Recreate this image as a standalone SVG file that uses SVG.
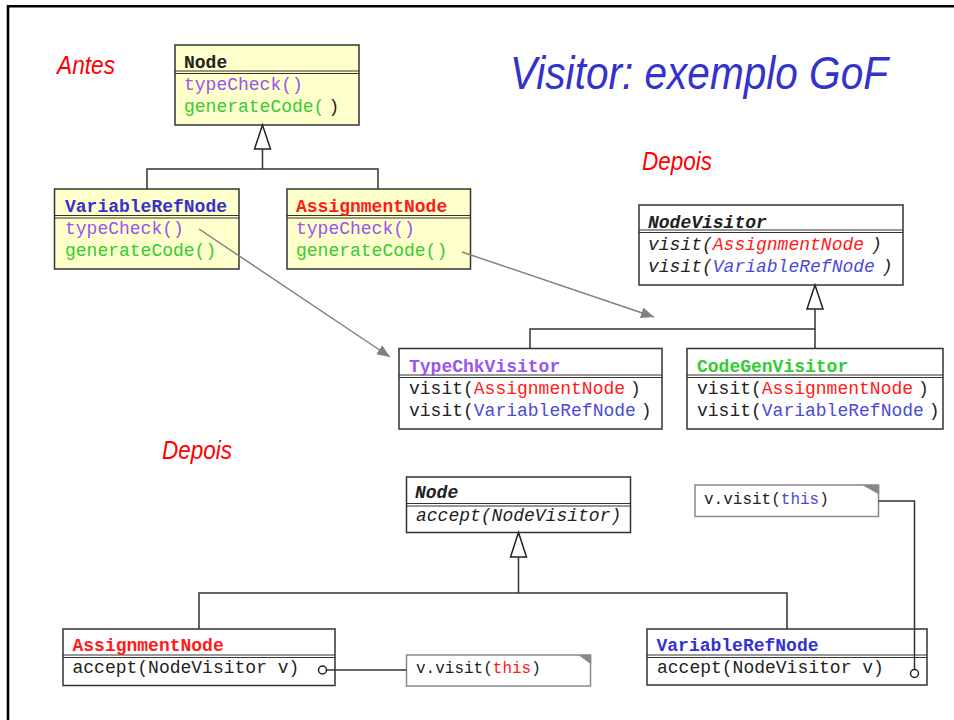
<svg xmlns="http://www.w3.org/2000/svg" width="954" height="720" viewBox="0 0 954 720">
  <style>
    .mono { font-family: "Liberation Mono", "Courier New", monospace; font-size: 18px; fill: #222; }
    .small { font-size: 16px; }
    .b { font-weight: bold; }
    .i { font-style: italic; }
    .head { font-family: "Liberation Sans", Arial, sans-serif; font-style: italic; fill: #ff0000; font-size: 25px; }
    .title { font-family: "Liberation Sans", Arial, sans-serif; font-style: italic; fill: #3333cc; font-size: 46px; }
    .ybox { fill: #ffffcc; stroke: #333; stroke-width: 1.5; }
    .wbox { fill: #ffffff; stroke: #333; stroke-width: 1.5; }
    .sep { stroke: #333; stroke-width: 1; }
    .note { fill: #ffffff; stroke: #888; stroke-width: 1.5; }
    .fold { fill: #888; }
    .red { fill: #ff1a1a; }
    .blue { fill: #3333cc; }
    .lblue { fill: #4a4ad9; }
    .purple { fill: #9955ee; }
    .green { fill: #33cc33; }
    .wire { fill: none; stroke: #333; stroke-width: 1.5; }
    .gen { fill: #ffffff; stroke: #222; stroke-width: 1.5; }
    .dep { fill: none; stroke: #808080; stroke-width: 1.5; marker-end: url(#arrow); }
    .port { fill: #ffffff; stroke: #222; stroke-width: 1.5; }
    .frame { fill: none; stroke: #000; stroke-width: 2.6; }
  </style>
  <defs>
    <marker id="arrow" markerUnits="userSpaceOnUse" markerWidth="14" markerHeight="12" refX="13" refY="5.5" orient="auto">
      <path d="M0,0 L13,5.5 L0,11 z" fill="#808080"/>
    </marker>
  </defs>

  <!-- page frame -->
  <path class="frame" d="M8,720 V6.2 H954"/>

  <!-- headings -->
  <text class="head" x="57" y="74" textLength="58" lengthAdjust="spacingAndGlyphs">Antes</text>
  <text class="title" x="510" y="89" textLength="378" lengthAdjust="spacingAndGlyphs">Visitor: exemplo GoF</text>
  <text class="head" x="642" y="170" textLength="70" lengthAdjust="spacingAndGlyphs">Depois</text>
  <text class="head" x="162" y="459" textLength="70" lengthAdjust="spacingAndGlyphs">Depois</text>

  <!-- before -->
  <g id="node-before">
    <rect class="ybox" x="175" y="45" width="184" height="80"/>
    <line class="sep" x1="175" y1="71" x2="359" y2="71"/>
    <line class="sep" x1="175" y1="73.5" x2="359" y2="73.5"/>
    <text class="mono b" x="184" y="68">Node</text>
    <text class="mono purple" x="184" y="90">typeCheck()</text>
    <text class="mono" x="184" y="112"><tspan class="green">generateCode(</tspan><tspan dx="4">)</tspan></text>
  </g>

  <g id="varref-before">
    <rect class="ybox" x="54.5" y="189" width="184.5" height="80"/>
    <line class="sep" x1="54.5" y1="215.5" x2="239" y2="215.5"/>
    <line class="sep" x1="54.5" y1="218" x2="239" y2="218"/>
    <text class="mono b blue" x="65" y="212">VariableRefNode</text>
    <text class="mono purple" x="65" y="234">typeCheck()</text>
    <text class="mono green" x="65" y="256">generateCode()</text>
  </g>

  <g id="assign-before">
    <rect class="ybox" x="287" y="189" width="183.5" height="80"/>
    <line class="sep" x1="287" y1="215.5" x2="470.5" y2="215.5"/>
    <line class="sep" x1="287" y1="218" x2="470.5" y2="218"/>
    <text class="mono b red" x="296" y="212">AssignmentNode</text>
    <text class="mono purple" x="296" y="234">typeCheck()</text>
    <text class="mono green" x="296" y="256">generateCode()</text>
  </g>

  <!-- visitors -->
  <g id="node-visitor">
    <rect class="wbox" x="639" y="205" width="264" height="80"/>
    <line class="sep" x1="639" y1="230" x2="903" y2="230"/>
    <line class="sep" x1="639" y1="232.5" x2="903" y2="232.5"/>
    <text class="mono b i" x="648" y="227.5">NodeVisitor</text>
    <text class="mono i" x="648" y="250">visit(<tspan class="red">AssignmentNode</tspan><tspan dx="7">)</tspan></text>
    <text class="mono i" x="648" y="272">visit(<tspan class="lblue">VariableRefNode</tspan><tspan dx="7">)</tspan></text>
  </g>

  <g id="typechk-visitor">
    <rect class="wbox" x="399" y="348.5" width="263" height="80.5"/>
    <line class="sep" x1="399" y1="375" x2="662" y2="375"/>
    <line class="sep" x1="399" y1="377.5" x2="662" y2="377.5"/>
    <text class="mono b purple" x="409" y="372">TypeChkVisitor</text>
    <text class="mono" x="409" y="394">visit(<tspan class="red">AssignmentNode</tspan><tspan dx="5">)</tspan></text>
    <text class="mono" x="409" y="416">visit(<tspan class="lblue">VariableRefNode</tspan><tspan dx="5">)</tspan></text>
  </g>

  <g id="codegen-visitor">
    <rect class="wbox" x="687" y="348.5" width="256" height="80.5"/>
    <line class="sep" x1="687" y1="375" x2="943" y2="375"/>
    <line class="sep" x1="687" y1="377.5" x2="943" y2="377.5"/>
    <text class="mono b green" x="697" y="372">CodeGenVisitor</text>
    <text class="mono" x="697" y="394">visit(<tspan class="red">AssignmentNode</tspan><tspan dx="5">)</tspan></text>
    <text class="mono" x="697" y="416">visit(<tspan class="lblue">VariableRefNode</tspan><tspan dx="5">)</tspan></text>
  </g>

  <!-- after -->
  <g id="node-after">
    <rect class="wbox" x="406.5" y="477" width="224" height="55.5"/>
    <line class="sep" x1="406.5" y1="503.5" x2="630.5" y2="503.5"/>
    <line class="sep" x1="406.5" y1="506" x2="630.5" y2="506"/>
    <text class="mono b i" x="415" y="498">Node</text>
    <text class="mono i" x="416" y="521">accept(NodeVisitor)</text>
  </g>

  <g id="assign-after">
    <rect class="wbox" x="63" y="629" width="272" height="56.5"/>
    <line class="sep" x1="63" y1="655" x2="335" y2="655"/>
    <line class="sep" x1="63" y1="657.5" x2="335" y2="657.5"/>
    <text class="mono b red" x="72.5" y="651">AssignmentNode</text>
    <text class="mono" x="72.5" y="673">accept(NodeVisitor v)</text>
  </g>

  <g id="varref-after">
    <rect class="wbox" x="647" y="629" width="280" height="56"/>
    <line class="sep" x1="647" y1="655" x2="927" y2="655"/>
    <line class="sep" x1="647" y1="657.5" x2="927" y2="657.5"/>
    <text class="mono b blue" x="656.5" y="651">VariableRefNode</text>
    <text class="mono" x="657" y="673">accept(NodeVisitor v)</text>
  </g>

  <g id="note-assign">
    <rect class="note" x="406.5" y="655" width="184" height="31"/>
    <polygon class="fold" points="578.5,655 591.2,655 591.2,664.5"/>
    <text class="mono small" x="416" y="673">v.visit(<tspan class="red">this</tspan>)</text>
  </g>

  <g id="note-varref">
    <rect class="note" x="695" y="485" width="183.5" height="31.5"/>
    <polygon class="fold" points="862,485 879.2,485 879.2,494.5"/>
    <text class="mono small" x="704" y="504">v.visit(<tspan class="lblue">this</tspan>)</text>
  </g>

  <!-- connectors, drawn over the class boxes -->
  <g id="connectors">
    <!-- before: Node hierarchy -->
    <polygon class="gen" points="262.5,125 254.5,149 270.5,149"/>
    <line class="wire" x1="262.5" y1="149" x2="262.5" y2="169"/>
    <polyline class="wire" points="147,189 147,169 378,169 378,189"/>
    <!-- visitor hierarchy -->
    <polygon class="gen" points="815,285 807,309 823,309"/>
    <line class="wire" x1="815" y1="309" x2="815" y2="348.5"/>
    <polyline class="wire" points="530,348.5 530,329 815,329"/>
    <!-- operations moved into visitors -->
    <line class="dep" x1="199" y1="229" x2="390" y2="357"/>
    <line class="dep" x1="462" y1="252" x2="654" y2="317"/>
    <!-- after: Node hierarchy -->
    <polygon class="gen" points="518.5,532.5 510.5,557 526.5,557"/>
    <line class="wire" x1="518.5" y1="557" x2="518.5" y2="593"/>
    <polyline class="wire" points="199,629 199,593 787,593 787,629"/>
    <!-- accept() implementations and their notes -->
    <line class="wire" x1="326.5" y1="670" x2="406.5" y2="670"/>
    <polyline class="wire" points="878.5,501 914.5,501 914.5,669.5"/>
    <circle class="port" cx="322.5" cy="670" r="4"/>
    <circle class="port" cx="914.5" cy="673.5" r="4"/>
  </g>
</svg>
